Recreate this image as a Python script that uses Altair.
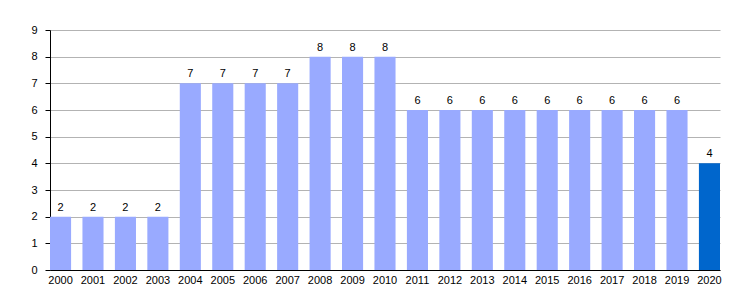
import altair as alt
import pandas as pd

years = [str(y) for y in range(2000, 2021)]
values = [2, 2, 2, 2, 7, 7, 7, 7, 8, 8, 8, 6, 6, 6, 6, 6, 6, 6, 6, 6, 4]
highlight = [False] * 20 + [True]

df = pd.DataFrame({"year": years, "value": values, "hl": highlight})

FONT = "Liberation Sans"

base = alt.Chart(df).encode(
    x=alt.X("year:N", sort=years, title=None,
            scale=alt.Scale(paddingInner=0.35, paddingOuter=0),
            axis=alt.Axis(labelAngle=0, ticks=False, domainColor="black", labelColor="black",
                          labelFont=FONT, labelFontSize=11, labelPadding=4, grid=False)),
    y=alt.Y("value:Q", title=None, scale=alt.Scale(domain=[0, 9]),
            axis=alt.Axis(values=list(range(10)), tickColor="black", domainColor="black",
                          labelColor="black", labelFont=FONT, labelFontSize=11, tickSize=5,
                          labelPadding=8, gridColor="#b3b3b3", grid=True)),
)

bars = base.mark_bar().encode(
    color=alt.Color("hl:N", scale=alt.Scale(domain=[False, True], range=["#99aaff", "#0066cc"]),
                    legend=None)
)

labels = base.mark_text(dy=-9, font=FONT, fontSize=11, color="black").encode(text="value:Q")

chart = (bars + labels).properties(
    width=670, height=240,
    autosize=alt.AutoSizeParams(type="none"),
    padding={"left": 50, "top": 30, "right": 30, "bottom": 30},
).configure_view(stroke=None)

chart.save("out.html", embed_options={"renderer": "svg", "actions": False})
